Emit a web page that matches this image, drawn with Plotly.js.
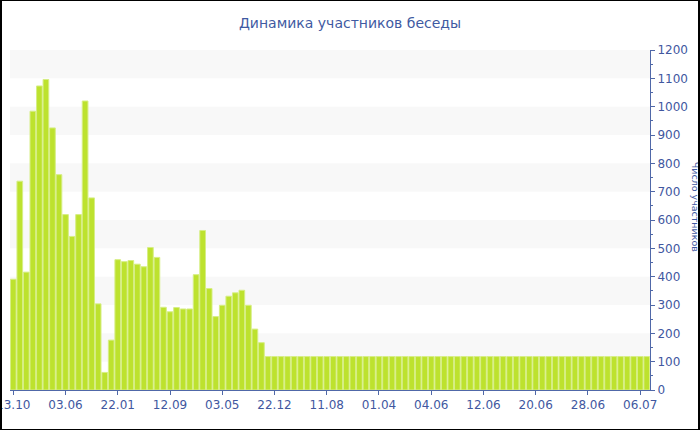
<!DOCTYPE html>
<html>
<head>
<meta charset="utf-8">
<script src="https://cdn.plot.ly/plotly-3.0.1.min.js"></script>
<style>
  html, body { margin: 0; padding: 0; background: #fff; }
  #wrap { position: relative; width: 700px; height: 430px; }
  #chart { position: absolute; left: 0; top: 0; width: 700px; height: 430px; }
  #frame { position: absolute; left: 0; top: 0; width: 700px; height: 430px; box-sizing: border-box;
           border-style: solid; border-color: #000; border-width: 1px 2px 1px 2px; pointer-events: none; }
</style>
</head>
<body>
<div id="wrap"><div id="chart"></div><div id="frame"></div></div>
<script>
const chartTitle = "Динамика участников беседы";
const yAxisTitle = "Число участников";

// participants per period (one bar each)
const participants = [
  391, 737, 416, 984, 1073, 1096, 925, 760, 619, 542,
  619, 1020, 678, 304, 62, 176, 460, 453, 457, 444,
  435, 503, 468, 292, 276, 291, 286, 286, 407, 563,
  358, 259, 299, 331, 343, 352, 299, 215, 167,
  118, 118, 118, 118, 118, 118, 118, 118, 118, 118,
  118, 118, 118, 118, 118, 118, 118, 118, 118, 118,
  118, 118, 118, 118, 118, 118, 118, 118, 118, 118,
  118, 118, 118, 118, 118, 118, 118, 118, 118, 118,
  118, 118, 118, 118, 118, 118, 118, 118, 118, 118,
  118, 118, 118, 118, 118, 118, 118, 118, 118
];

// visible date labels (every 8th bar)
const tickLabels = ["13.10", "03.06", "22.01", "12.09", "03.05", "22.12", "11.08",
                    "01.04", "04.06", "12.06", "20.06", "28.06", "06.07"];
const tickPositions = [0, 8, 16, 24, 32, 40, 48, 56, 64, 72, 80, 88, 96];

const xIndex = participants.map((v, i) => i);

const yMax = 1200;
const yStep = 100;

// alternating horizontal grid bands
const bands = [];
for (let v = yStep; v < yMax; v += 2 * yStep) {
  bands.push({
    type: 'rect', xref: 'paper', yref: 'y', x0: 0, x1: 1, y0: v, y1: v + yStep,
    fillcolor: '#f8f8f8', line: { width: 0 }, layer: 'below'
  });
}

const axisColor = '#5068a8';
const textColor = '#41579f';

const trace = {
  type: 'bar',
  x: xIndex,
  y: participants,
  marker: { color: '#bde22e', line: { color: '#d6ee84', width: 1 } },
  hoverinfo: 'none'
};

const layout = {
  width: 700, height: 430,
  margin: { l: 10, r: 50, t: 50, b: 40 },
  paper_bgcolor: '#ffffff', plot_bgcolor: 'rgba(0,0,0,0)',
  font: { family: 'DejaVu Sans, Verdana, sans-serif', size: 12, color: textColor },
  title: { text: chartTitle, x: 0.5, xanchor: 'center', y: 0.947, yanchor: 'middle',
           font: { family: 'DejaVu Sans, Verdana, sans-serif', size: 14, color: '#3f5aa2' } },
  showlegend: false,
  bargap: 0.13,
  shapes: bands,
  xaxis: {
    type: 'linear', range: [-0.5, participants.length - 0.5],
    tickmode: 'array', tickvals: tickPositions, ticktext: tickLabels,
    ticklabeloverflow: 'allow',
    showgrid: false, zeroline: false,
    showline: true, linecolor: axisColor, linewidth: 1,
    ticks: 'outside', ticklen: 4, tickcolor: axisColor,
    tickfont: { size: 12, color: textColor }
  },
  yaxis: {
    side: 'right', range: [0, yMax], dtick: yStep, tick0: 0,
    showgrid: false, zeroline: false,
    showline: true, linecolor: axisColor, linewidth: 1,
    ticks: 'outside', ticklen: 4, tickcolor: axisColor,
    minor: { dtick: yStep / 2, ticks: 'outside', ticklen: 2, tickcolor: axisColor },
    tickfont: { size: 12, color: textColor }
  },
  annotations: [{
    text: yAxisTitle, xref: 'paper', yref: 'paper',
    x: (695 - 10) / 640, y: 0.539, xanchor: 'center', yanchor: 'middle',
    textangle: 90, showarrow: false,
    font: { family: 'DejaVu Sans, Verdana, sans-serif', size: 9.5, color: '#3f5aa2' }
  }]
};

Plotly.newPlot('chart', [trace], layout, { staticPlot: true, displayModeBar: false });
</script>
</body>
</html>
